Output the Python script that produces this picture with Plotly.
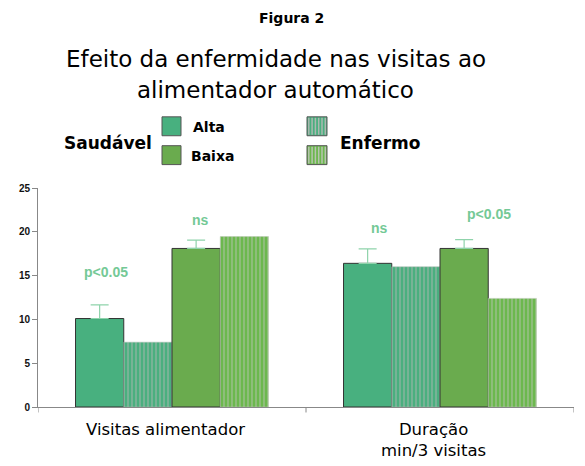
import plotly.graph_objects as go

categories = ["Visitas alimentador", "Duração<br>min/3 visitas"]
alta_saudavel = [10.1, 16.4]
alta_saudavel_err = [1.55, 1.65]
alta_enfermo = [7.4, 16.0]
baixa_saudavel = [18.1, 18.1]
baixa_saudavel_err = [0.95, 1.0]
baixa_enfermo = [19.45, 12.4]
yticks = [0, 5, 10, 15, 20, 25]
sig_labels = ["p<0.05", "ns", "ns", "p<0.05"]
sig_x = [-0.245, 0.107, 1 - 0.227, 1 + 0.183]
sig_y = [15.4, 21.3, 20.4, 22.0]

C_ALTA = "#48b07f"
C_BAIXA = "#6aab4e"
C_SIG = "#74c996"
FONT = "DejaVu Sans"

xidx = list(range(len(categories)))

fig = go.Figure()
fig.add_trace(go.Bar(
    x=xidx, y=alta_saudavel, marker=dict(color=C_ALTA, line=dict(color="#333333", width=1)),
    error_y=dict(type="data", array=alta_saudavel_err, arrayminus=[0, 0], symmetric=False,
                 color="#8fd3ab", thickness=1.2, width=9),
    showlegend=False))
fig.add_trace(go.Bar(
    x=xidx, y=alta_enfermo,
    marker=dict(color="#4aaf7f", line=dict(color="#a9b8ae", width=0.5),
                pattern=dict(shape="|", fgcolor="#adb8b1", bgcolor="#4aaf7f", size=4, solidity=0.45)),
    showlegend=False))
fig.add_trace(go.Bar(
    x=xidx, y=baixa_saudavel, marker=dict(color=C_BAIXA, line=dict(color="#333333", width=1)),
    error_y=dict(type="data", array=baixa_saudavel_err, arrayminus=[0, 0], symmetric=False,
                 color="#8fd3ab", thickness=1.2, width=9),
    showlegend=False))
fig.add_trace(go.Bar(
    x=xidx, y=baixa_enfermo,
    marker=dict(color="#6cb84e", line=dict(color="#b8c4b0", width=0.5),
                pattern=dict(shape="|", fgcolor="#b8c4b0", bgcolor="#6cb84e", size=4, solidity=0.45)),
    showlegend=False))

annotations = []
for t, x, y in zip(sig_labels, sig_x, sig_y):
    annotations.append(dict(x=x, y=y, xref="x", yref="y", text=t, showarrow=False,
                            yanchor="middle", xanchor="center",
                            font=dict(family="Arial", size=14, color=C_SIG, weight="bold")))

LEFT, RIGHT = 38, 574
TOP, BOTTOM = 187.5, 407.5

def paper_x(px):
    return (px - LEFT) / (RIGHT - LEFT)

def paper_y(py):
    return (BOTTOM - py) / (BOTTOM - TOP)

# category labels (slightly left of the group centre, as in the original)
for i, cat in zip(xidx, categories):
    annotations.append(dict(x=i - 0.023, y=paper_y(419), xref="x", yref="paper", text=cat,
                            showarrow=False, xanchor="center", yanchor="top",
                            font=dict(family=FONT, size=16.5, color="#000")))

def label(px, py, text, size, weight="normal"):
    annotations.append(dict(x=paper_x(px), y=paper_y(py), xref="paper", yref="paper", text=text,
                            showarrow=False, xanchor="center", yanchor="middle",
                            font=dict(family=FONT, size=size, color="#000", weight=weight)))

label(291, 17, "Figura 2", 14, "bold")
label(276, 58, "Efeito da enfermidade nas visitas ao", 23)
label(275, 89, "alimentador automático", 23)
label(108, 142, "Saudável", 17, "bold")
label(209, 126, "Alta", 14, "bold")
label(212, 155, "Baixa", 14, "bold")
label(380, 142, "Enfermo", 17, "bold")

shapes = []
def swatch(x0, y0, x1, y1, color):
    return dict(type="rect", xref="paper", yref="paper",
                x0=paper_x(x0), x1=paper_x(x1), y0=paper_y(y1), y1=paper_y(y0),
                fillcolor=color, line=dict(color="#555555", width=1))

shapes.append(swatch(162, 116, 181, 135, C_ALTA))
shapes.append(swatch(162, 145, 181, 164, C_BAIXA))
shapes.append(swatch(307, 116, 327, 135, "#4aaf7f"))
shapes.append(swatch(307, 145, 327, 164, "#6cb84e"))
for yy0, yy1, sc in [(116, 135, "#adb8b1"), (145, 164, "#b8c4b0")]:
    for k in range(6):
        xx = 308.8 + k * 3.3
        shapes.append(dict(type="line", xref="paper", yref="paper",
                           x0=paper_x(xx), x1=paper_x(xx), y0=paper_y(yy1 - 1), y1=paper_y(yy0 + 1),
                           line=dict(color=sc, width=1.5)))

fig.update_layout(
    width=585, height=466,
    margin=dict(l=LEFT, r=585 - RIGHT, t=TOP, b=466 - BOTTOM),
    paper_bgcolor="white", plot_bgcolor="white",
    barmode="group", bargap=0.28, bargroupgap=0,
    annotations=annotations, shapes=shapes,
    xaxis=dict(tickmode="array", tickvals=xidx, range=[-0.5, 1.5],
               showline=True, linecolor="#888888", linewidth=1, automargin=False,
               ticks="", showgrid=False, zeroline=False, showticklabels=False),
    yaxis=dict(range=[0, 25], tickvals=yticks, showline=True, linecolor="#888888", linewidth=1,
               ticks="outside", ticklen=5, tickcolor="#888888", showgrid=False, zeroline=False,
               automargin=False,
               tickfont=dict(family="Arial", size=10, color="#111", weight="bold")),
)
for b in [-0.5, 0.5, 1.5]:
    fig.add_shape(type="line", xref="x", yref="paper", x0=b, x1=b, y0=0, y1=-0.025,
                  line=dict(color="#888888", width=1))

fig.write_html("out.html")
